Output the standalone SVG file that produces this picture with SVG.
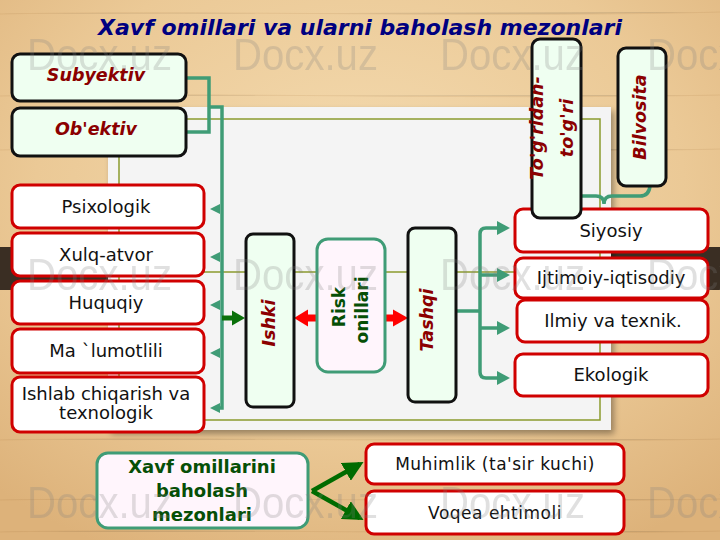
<svg xmlns="http://www.w3.org/2000/svg" width="720" height="540" viewBox="0 0 720 540">
<defs>
  <radialGradient id="wood" cx="0.5" cy="0.35" r="0.75">
    <stop offset="0" stop-color="#f4dbb0"/>
    <stop offset="0.6" stop-color="#ebc996"/>
    <stop offset="1" stop-color="#ddb27a"/>
  </radialGradient>
  <filter id="sh" x="-5%" y="-5%" width="115%" height="115%">
    <feGaussianBlur in="SourceAlpha" stdDeviation="3"/>
    <feOffset dx="3" dy="4"/>
    <feComponentTransfer><feFuncA type="linear" slope="0.35"/></feComponentTransfer>
    <feMerge><feMergeNode/><feMergeNode in="SourceGraphic"/></feMerge>
  </filter>
  <marker id="gArr" viewBox="0 0 10 10" refX="8" refY="5" markerWidth="4.5" markerHeight="4.5" orient="auto" markerUnits="strokeWidth">
    <path d="M0,0 L10,5 L0,10 Z" fill="#006b00"/>
  </marker>
  <style>
    .txt{font-family:"DejaVu Sans","Verdana",sans-serif;}
    .red{fill:#ffffff;stroke:#d00000;stroke-width:3;}
    .mint{fill:#effff1;stroke:#111111;stroke-width:3;}
    .pink{fill:#fff5fc;stroke:#3f9c76;stroke-width:3;}
    .lbl{font-family:"DejaVu Sans","Verdana",sans-serif;font-size:18px;fill:#111;text-anchor:middle;}
    .lbl2{font-family:"DejaVu Sans","Verdana",sans-serif;font-size:17px;letter-spacing:0.5px;fill:#111;text-anchor:middle;}
    .bi{font-family:"DejaVu Sans","Verdana",sans-serif;font-weight:bold;font-style:italic;fill:#8b0000;text-anchor:middle;font-size:17.5px;}
    .bg{font-family:"DejaVu Sans","Verdana",sans-serif;font-weight:bold;fill:#064f06;text-anchor:middle;}
    .teal{fill:none;stroke:#3f9c76;stroke-width:3.5;}
    .tealf{fill:#3f9c76;}
    .wm{font-family:"Liberation Sans",Arial,sans-serif;font-size:45px;fill:#808080;opacity:0.24;}
  </style>
</defs>

<!-- background -->
<rect x="0" y="0" width="720" height="540" fill="url(#wood)"/>
<g opacity="0.12" stroke="#a06a30" stroke-width="1">
  <path d="M0,14 C200,10 500,18 720,12"/>
  <path d="M0,96 C220,92 480,100 720,95"/>
  <path d="M0,150 C240,146 520,154 720,149"/>
  <path d="M0,440 C220,436 500,444 720,439"/>
  <path d="M0,500 C250,496 480,504 720,499"/>
  <path d="M0,532 C200,528 520,536 720,531"/>
</g>
<rect x="0" y="247" width="720" height="43" fill="#3a2e23"/>

<!-- panel -->
<g id="panel">
  <rect x="108" y="107" width="503" height="323" fill="#f4f4f4" filter="url(#sh)"/>
  <rect x="119" y="119" width="481" height="301" fill="none" stroke="#8b9b2e" stroke-width="1.5"/>
  <line x1="119" y1="272" x2="600" y2="272" stroke="#8b9b2e" stroke-width="1.5"/>
</g>

<!-- title -->
<text id="title" x="360" y="35" class="txt" font-size="22" font-weight="bold" font-style="italic" fill="#000080" text-anchor="middle">Xavf omillari va ularni baholash mezonlari</text>

<!-- connectors -->
<g id="connectors">
  <path class="teal" d="M186,78 H209 V132 H186"/>
  <path class="teal" d="M209,107 H222 V408 H216"/>
  <polygon class="tealf" points="210,209 220,204 220,214"/>
  <polygon class="tealf" points="210,257 220,252 220,262"/>
  <polygon class="tealf" points="210,305 220,300 220,310"/>
  <polygon class="tealf" points="210,353 220,348 220,358"/>
  <polygon class="tealf" points="210,408 220,403 220,413"/>
  <rect x="222" y="315.5" width="12" height="5" fill="#0a700a"/>
  <polygon points="245,318 232,310.5 232,325.5" fill="#0a700a"/>
  <rect x="306" y="314.5" width="12" height="7" fill="#ff0000"/>
  <polygon points="294,318 308,309.5 308,326.5" fill="#ff0000"/>
  <rect x="384" y="314.5" width="11" height="7" fill="#ff0000"/>
  <polygon points="408,318 393,309.5 393,326.5" fill="#ff0000"/>
  <path class="teal" d="M456,311 H480" stroke-width="4"/>
  <path class="teal" d="M498,228 H486 Q480,228 480,234 V372 Q480,378 486,378 H498" stroke-width="4"/>
  <path class="teal" d="M480,275 H498 M480,328 H498" stroke-width="4"/>
  <polygon class="tealf" points="510,228 497,221 497,235"/>
  <polygon class="tealf" points="510,275 497,268 497,282"/>
  <polygon class="tealf" points="510,328 497,321 497,335"/>
  <polygon class="tealf" points="510,378 497,371 497,385"/>
  <path class="teal" stroke-width="4" d="M568,186 Q569,196 580,196 H596 Q604,196 604,204 Q604,196 612,196 H640 Q649,196 650,186"/>
  <path d="M312,491 L360,464" stroke="#006b00" stroke-width="4.5" fill="none" marker-end="url(#gArr)"/>
  <path d="M312,491 L360,518" stroke="#006b00" stroke-width="4.5" fill="none" marker-end="url(#gArr)"/>
</g>

<g id="subyektiv">
  <rect class="mint" x="12" y="54" width="174" height="47" rx="8"/>
  <text class="bi" x="96" y="81">Subyektiv</text>
</g>
<g id="obektiv">
  <rect class="mint" x="12" y="108" width="174" height="48" rx="8"/>
  <text class="bi" x="96" y="135">Ob'ektiv</text>
</g>

<g id="psixologik">
  <rect class="red" x="12" y="185" width="192" height="43" rx="8"/>
  <text class="lbl" x="106" y="213">Psixologik</text>
</g>
<g id="xulq">
  <rect class="red" x="12" y="233" width="192" height="43" rx="8"/>
  <text class="lbl" x="106" y="261">Xulq-atvor</text>
</g>
<g id="huquqiy">
  <rect class="red" x="12" y="281" width="192" height="43" rx="8"/>
  <text class="lbl" x="106" y="309">Huquqiy</text>
</g>
<g id="malumotlili">
  <rect class="red" x="12" y="329" width="192" height="44" rx="8"/>
  <text class="lbl" x="106" y="357">Ma `lumotlili</text>
</g>
<g id="ishlab">
  <rect class="red" x="12" y="377" width="192" height="55" rx="8"/>
  <text class="lbl" x="106" y="400">Ishlab chiqarish va</text>
  <text class="lbl" x="106" y="419">texnologik</text>
</g>

<g id="ishki">
  <rect class="mint" x="246" y="234" width="48" height="173" rx="7"/>
  <text class="bi" font-size="18" transform="translate(275,323) rotate(-90)">Ishki</text>
</g>
<g id="risk">
  <rect class="pink" x="317" y="239" width="68" height="133" rx="11"/>
  <text class="bg" font-size="17" transform="translate(345,307) rotate(-90)">Risk</text>
  <text class="bg" font-size="17" transform="translate(368,310) rotate(-90)">onillari</text>
</g>
<g id="tashqi">
  <rect class="mint" x="408" y="228" width="48" height="174" rx="7"/>
  <text class="bi" font-size="18" transform="translate(433,320) rotate(-90)">Tashqi</text>
</g>

<g id="siyosiy">
  <rect class="red" x="515" y="209" width="193" height="43" rx="8"/>
  <text class="lbl" x="611" y="237">Siyosiy</text>
</g>
<g id="ijtimoiy">
  <rect class="red" x="515" y="258" width="193" height="40" rx="8"/>
  <text class="lbl" x="611" y="284">Ijtimoiy-iqtisodiy</text>
</g>
<g id="ilmiy">
  <rect class="red" x="517" y="300" width="191" height="42" rx="8"/>
  <text class="lbl" x="613" y="327">Ilmiy va texnik.</text>
</g>
<g id="ekologik">
  <rect class="red" x="515" y="354" width="193" height="42" rx="8"/>
  <text class="lbl" x="611" y="381">Ekologik</text>
</g>

<g id="togridan">
  <rect class="mint" x="532" y="39" width="49" height="179" rx="8"/>
  <text class="bi" transform="translate(543,128) rotate(-90)">To'g'ridan-</text>
  <text class="bi" transform="translate(573,128) rotate(-90)">to'g'ri</text>
</g>
<g id="bilvosita">
  <rect class="mint" x="618" y="48" width="48" height="138" rx="8"/>
  <text class="bi" transform="translate(646,117) rotate(-90)">Bilvosita</text>
</g>

<g id="mezonlar">
  <rect class="pink" x="97" y="453" width="211" height="75" rx="11"/>
  <text class="bg" font-size="18" x="202" y="473">Xavf omillarini</text>
  <text class="bg" font-size="18" x="202" y="497">baholash</text>
  <text class="bg" font-size="18" x="202" y="521">mezonlari</text>
</g>
<g id="muhimlik">
  <rect class="red" x="366" y="444" width="258" height="40" rx="8"/>
  <text class="lbl2" x="495" y="470">Muhimlik (ta'sir kuchi)</text>
</g>
<g id="voqea">
  <rect class="red" x="366" y="491" width="258" height="43" rx="8"/>
  <text class="lbl2" x="495" y="519">Voqea ehtimoli</text>
</g>

<g id="watermarks" class="wm">
  <text x="27" y="70" textLength="145" lengthAdjust="spacingAndGlyphs">Docx.uz</text>
  <text x="233" y="70" textLength="145" lengthAdjust="spacingAndGlyphs">Docx.uz</text>
  <text x="440" y="70" textLength="145" lengthAdjust="spacingAndGlyphs">Docx.uz</text>
  <text x="647" y="70" textLength="145" lengthAdjust="spacingAndGlyphs">Docx.uz</text>
  <text x="27" y="290" textLength="145" lengthAdjust="spacingAndGlyphs">Docx.uz</text>
  <text x="233" y="290" textLength="145" lengthAdjust="spacingAndGlyphs">Docx.uz</text>
  <text x="440" y="290" textLength="145" lengthAdjust="spacingAndGlyphs">Docx.uz</text>
  <text x="647" y="290" textLength="145" lengthAdjust="spacingAndGlyphs">Docx.uz</text>
  <text x="27" y="518" textLength="145" lengthAdjust="spacingAndGlyphs">Docx.uz</text>
  <text x="233" y="518" textLength="145" lengthAdjust="spacingAndGlyphs">Docx.uz</text>
  <text x="440" y="518" textLength="145" lengthAdjust="spacingAndGlyphs">Docx.uz</text>
  <text x="647" y="518" textLength="145" lengthAdjust="spacingAndGlyphs">Docx.uz</text>
</g>
</svg>
